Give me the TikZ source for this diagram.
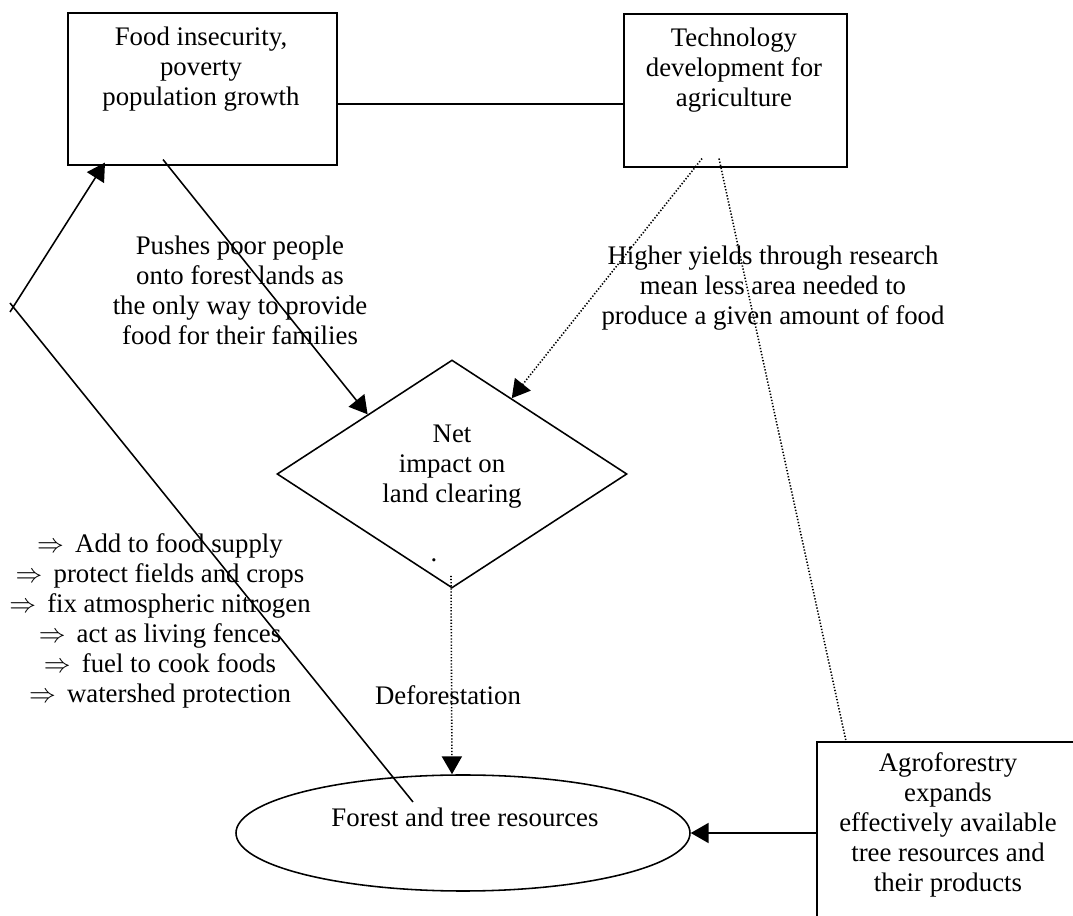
\documentclass[tikz,border=0pt]{standalone}
\usepackage{fontspec}
\setmainfont{Liberation Serif}
\usetikzlibrary{shapes.geometric,arrows.meta,calc}
\begin{document}
\begin{tikzpicture}[x=0.448pt,y=-0.448pt,
  font=\fontsize{12}{13.4}\selectfont,
  ln/.style={line width=0.7pt},
  box/.style={draw,ln,rectangle,inner sep=0pt,anchor=north west},
  lbl/.style={align=center,inner sep=0pt},
  dotln/.style={line width=0.7pt,dash pattern=on 0.6pt off 0.8pt},
  tip/.style={-{Triangle[length=8pt,width=9pt]}}
]
\useasboundingbox (0,0) rectangle (1073,916);
\clip (0,0) rectangle (1073,916);

% shapes
\node[box,minimum width=269*0.448pt,minimum height=152*0.448pt] (b1) at (67,12) {};
\node[box,minimum width=223*0.448pt,minimum height=153*0.448pt] (b2) at (623,13) {};
\node[box,minimum width=330*0.448pt,minimum height=230*0.448pt] (agro) at (816,741) {};
\node[draw,ln,diamond,inner sep=0pt,minimum width=350*0.448pt,minimum height=228*0.448pt] (dm) at (452,474) {};
\node[draw,ln,ellipse,inner sep=0pt,minimum width=454*0.448pt,minimum height=116*0.448pt] (el) at (463,833) {};

% texts
\node[lbl] (t1) at (201,69) {Food insecurity,\\poverty\\population growth};
\node[lbl] (t2) at (734,70) {Technology\\development for\\agriculture};
\node[lbl] (t3) at (452,467) {Net\\impact on\\land clearing};
\node[lbl] (t4) at (465,817) {Forest and tree resources};
\node[lbl] (t5) at (948,825) {Agroforestry\\expands\\effectively available\\tree resources and\\their products};
\node[lbl] (push) at (240,290) {Pushes poor people\\onto forest lands as\\the only way to provide\\food for their families};
\node[lbl] (high) at (773,288) {Higher yields through research\\mean less area needed to\\produce a given amount of food};
\node[lbl] (defo) at (448,695) {Deforestation};
\node[lbl] (list) at (160,621) {$\Rightarrow$\hspace{5pt}Add to food supply\\
$\Rightarrow$\hspace{5pt}protect fields and crops\\
$\Rightarrow$\hspace{5pt}fix atmospheric nitrogen\\
$\Rightarrow$\hspace{5pt}act as living fences\\
$\Rightarrow$\hspace{5pt}fuel to cook foods\\
$\Rightarrow$\hspace{5pt}watershed protection};
\node[lbl] (stray) at (434,560) {.};

% connectors
\coordinate (kink) at (13,307);
\draw[ln] (b1.east |- 0,104) -- (b2.west |- 0,104);
\draw[ln,tip] ($(b1.south west)+(96,-6)$) -- ($(dm.north)!0.48!(dm.west)$);
\draw[dotln,tip] ($(b2.south west)+(79,-9)$) -- ($(dm.north)!0.34!(dm.east)$);
\draw[dotln] ($(b2.south west)+(96,-9)$) -- ($(agro.north west)+(30,0)$);
\draw[dotln,tip] ($(dm.south)+(-1,-13)$) -- (el.north -| dm.south);
\draw[ln,tip] (agro.north west |- el.east) -- (el.east);
\draw[ln,tip] ($(kink)+(-3,5)$) -- ($(b1.south west)+(38,-3)$);
\draw[ln] ($(kink)+(-3,-4)$) -- ($(el.center)+(-50,-31)$);
\end{tikzpicture}
\end{document}
